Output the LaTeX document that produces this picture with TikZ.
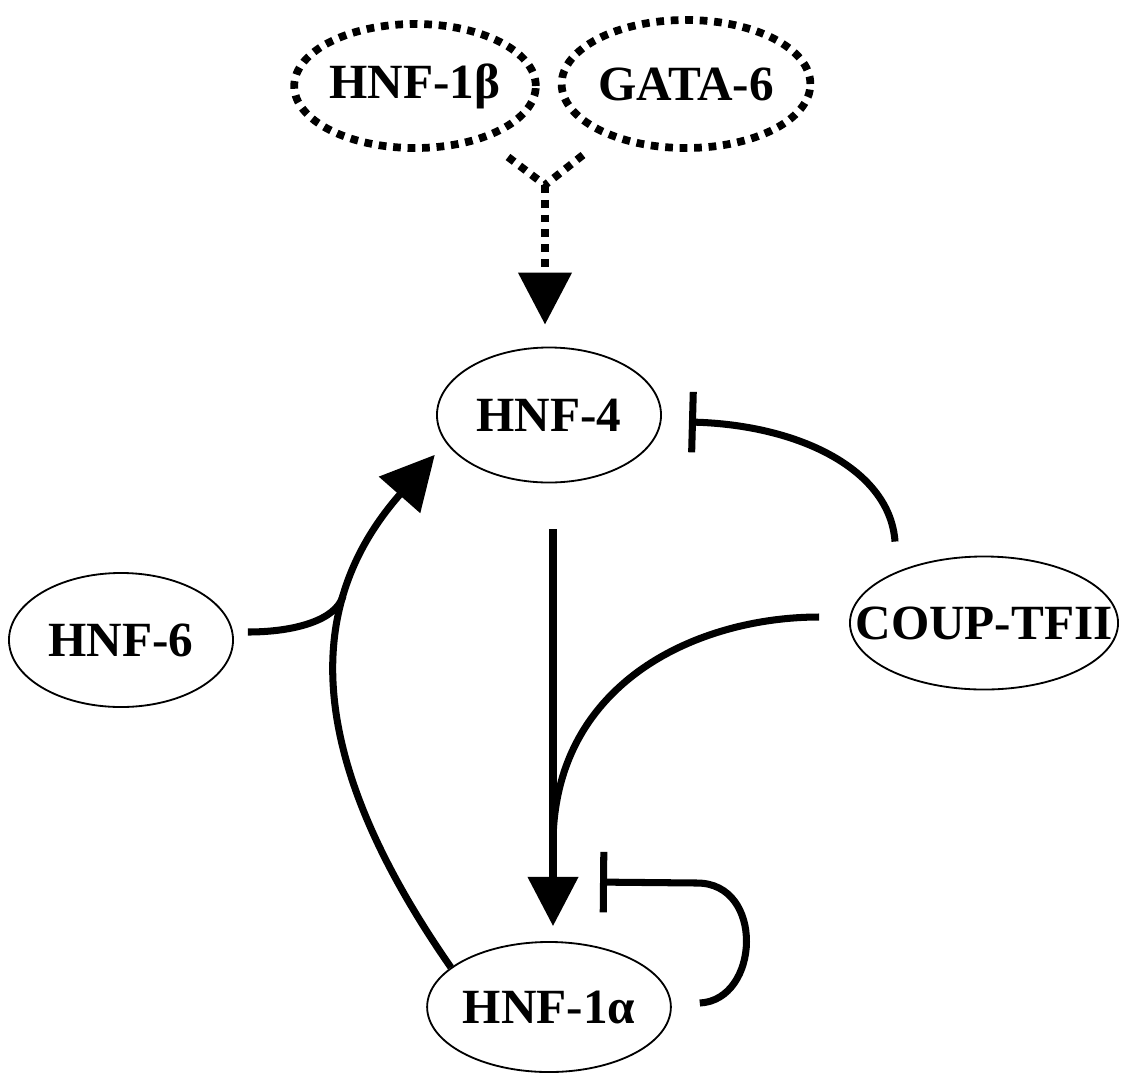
\documentclass[tikz,border=0pt]{standalone}
\usepackage{fontspec}
\setmainfont{Liberation Serif}
\usetikzlibrary{shapes.geometric,arrows.meta}
\begin{document}
\begin{tikzpicture}[x=0.025cm,y=-0.025cm,
  every node/.style={font=\fontsize{35}{40}\selectfont\bfseries},
  gene/.style={ellipse,draw,line width=1.3pt,inner sep=0pt},
  dgene/.style={ellipse,draw,line width=5.5pt,dash pattern=on 5.5pt off 4.8pt,inner sep=0pt},
  lbl/.style={inner sep=0pt},
  thick line/.style={line width=5pt},
  dline/.style={line width=5.5pt,dash pattern=on 5.5pt off 5pt},
  actA/.style={thick line,-{Triangle[length=35pt,width=35pt]}},
  actB/.style={thick line,-{Triangle[length=38pt,width=38pt]}},
  actD/.style={dline,-{Triangle[length=37pt,width=37pt]}},
  inh/.style={thick line,-{Bar[width=43pt]}}]
\useasboundingbox (0,0) rectangle (1128,1078);

% nodes
\node[dgene,minimum width=5.625cm,minimum height=3.1cm] (hnf1b) at (415,86) {HNF-1β};
\node[dgene,minimum width=5.675cm,minimum height=3.2cm] (gata6) at (686,84) {GATA-6};
\node[gene,minimum width=5.6cm,minimum height=3.375cm] (hnf4) at (549,415) {HNF-4};
\node[gene,minimum width=5.6cm,minimum height=3.35cm] (hnf6) at (121,640) {HNF-6};
\node[gene,minimum width=6.7cm,minimum height=3.325cm] (coup) at (984,623) {};
\node[lbl] (couptext) at (coup.center) {COUP-TFII};
\node[gene,minimum width=5.6cm,minimum height=3.25cm] (hnf1a) at (549,1007) {HNF-1α};

% junction points
\coordinate (jn) at (545,185);
\coordinate (m6) at (343,596);
\coordinate (cj) at (553,840);

% dotted inputs to HNF-4
\draw[dline] ([shift={(93,71)}]hnf1b.center) -- (jn);
\draw[dline] ([shift={(-103,71)}]gata6.center) -- (jn);
\draw[actD] (jn) -- ([shift={(-4,-22)}]hnf4.north);

% HNF-4 -> HNF-1alpha
\draw[actA] ([shift={(4,46)}]hnf4.south) -- ([shift={(4,-15)}]hnf1a.north);

% HNF-1alpha -> HNF-4
\draw[actB] (hnf1a.158) .. controls (290,736) and (314,592) .. ([shift={(-16,6)}]hnf4.199);

% HNF-6 joins
\draw[thick line] ([shift={(14,-8)}]hnf6.east) .. controls (295,632) and (336,620) .. (m6);

% COUP-TFII -| HNF-4
\draw[inh] ([shift={(-89,-14)}]coup.north) .. controls (890,470) and (800,425) .. ([shift={(27,7)}]hnf4.east);

% COUP-TFII joins the HNF-4 -> HNF-1alpha arrow
\draw[thick line] ([shift={(-30,-6)}]coup.west) .. controls (700,617) and (556,680) .. (cj);

% HNF-1alpha self inhibition
\draw[inh] ([shift={(28,-4)}]hnf1a.east) .. controls (760,1000) and (765,883) .. (697,883) -- ([shift={(51,-59)}]hnf1a.north);
\end{tikzpicture}
\end{document}
